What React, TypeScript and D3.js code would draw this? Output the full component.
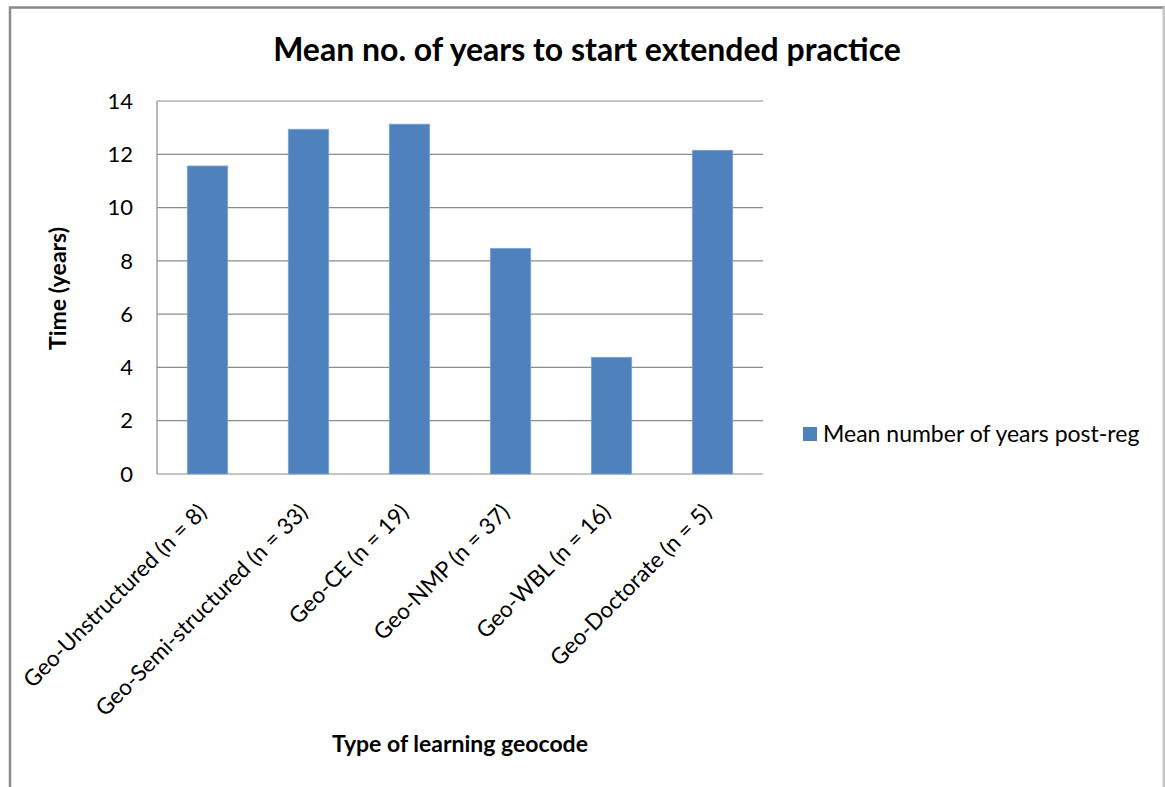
import React from "react";
import * as d3 from "d3";

const categories: string[] = [
  "Geo-Unstructured (n = 8)",
  "Geo-Semi-structured (n = 33)",
  "Geo-CE (n = 19)",
  "Geo-NMP (n = 37)",
  "Geo-WBL (n = 16)",
  "Geo-Doctorate (n = 5)",
];
const meanYears: number[] = [11.56, 12.94, 13.13, 8.47, 4.38, 12.15];
const yTicks: number[] = [0, 2, 4, 6, 8, 10, 12, 14];
const seriesName = "Mean number of years post-reg";
const chartTitle = "Mean no. of years to start extended practice";
const xTitle = "Type of learning geocode";
const yTitle = "Time (years)";

const W = 1165;
const H = 787;
const plot = { left: 157, right: 763, top: 101, bottom: 474 };
const FONT = "Lato, 'Open Sans', sans-serif";
const BAR = "#4F81BD";
const GRID = "#8c8c8c";

export default function App() {
  const x = d3
    .scaleBand<string>()
    .domain(categories)
    .range([plot.left, plot.right])
    .paddingInner(0.6)
    .paddingOuter(0.3);
  const y = d3.scaleLinear().domain([0, 14]).range([plot.bottom, plot.top]);

  return (
    <svg
      width={W}
      height={H}
      style={{ position: "absolute", left: 0, top: 0, background: "#fff" }}
      fontFamily={FONT}
    >
      {/* chart frame */}
      <path d={`M10,${H} V7.5 H${W - 1} V${H}`} fill="none" stroke="#8a8a8a" strokeWidth={2.5} />
      <line x1={W - 1} x2={W - 1} y1={7} y2={H} stroke="#c8c8c8" strokeWidth={2} />

      <text x={587} y={61} textAnchor="middle" fontSize={32} fontWeight="bold" fill="#000">
        {chartTitle}
      </text>

      {/* gridlines and y ticks */}
      {yTicks.map((t) => (
        <g key={t}>
          <line x1={plot.left} x2={plot.right} y1={y(t)} y2={y(t)} stroke={GRID} strokeWidth={1.2} />
          <text x={133} y={y(t)} dy="0.35em" textAnchor="end" fontSize={22} fill="#000">
            {t}
          </text>
        </g>
      ))}
      <line x1={plot.left} x2={plot.left} y1={plot.top} y2={plot.bottom} stroke={GRID} strokeWidth={1.2} />

      {/* bars */}
      {categories.map((c, i) => (
        <rect
          key={c}
          x={x(c)}
          y={y(meanYears[i])}
          width={x.bandwidth()}
          height={plot.bottom - y(meanYears[i])}
          fill={BAR}
          stroke="#7fa3d1"
          strokeWidth={0.8}
        />
      ))}

      {/* category labels */}
      {categories.map((c) => {
        const cx = (x(c) as number) + x.bandwidth() / 2;
        return (
          <text
            key={c}
            transform={`translate(${cx - 5},${plot.bottom + 34}) rotate(-45)`}
            textAnchor="end"
            dy="0.35em"
            fontSize={22.5}
            fill="#000"
          >
            {c}
          </text>
        );
      })}

      <text x={460} y={752} textAnchor="middle" fontSize={23} fontWeight="bold" fill="#000">
        {xTitle}
      </text>
      <text
        transform={`translate(58,${(plot.top + plot.bottom) / 2 + 1}) rotate(-90)`}
        textAnchor="middle"
        dy="0.35em"
        fontSize={23}
        fontWeight="bold"
        fill="#000"
      >
        {yTitle}
      </text>

      {/* legend */}
      <rect x={803} y={427} width={14} height={14} fill={BAR} />
      <text x={823} y={434} dy="0.35em" fontSize={23} fill="#000">
        {seriesName}
      </text>
    </svg>
  );
}
